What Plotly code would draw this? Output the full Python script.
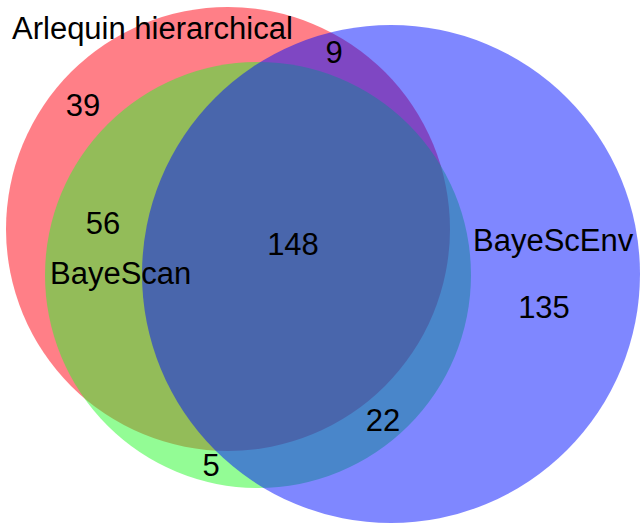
import plotly.graph_objects as go

# sets and region counts
set_names = ["Arlequin hierarchical", "BayeScan", "BayeScEnv"]
region_keys = ["A", "AB", "AC", "ABC", "B", "BC", "C"]
region_counts = [39, 56, 9, 148, 5, 22, 135]

# circle geometry in pixel space (x right, y down)
CIRCLES = {
    "Arlequin hierarchical": dict(cx=228, cy=229, r=222, color="rgba(255,0,16,0.5)"),
    "BayeScan": dict(cx=258, cy=275, r=213, color="rgba(40,250,44,0.5)"),
    "BayeScEnv": dict(cx=391, cy=274, r=249, color="rgba(0,16,255,0.5)"),
}

# label placement
COUNT_POS = {
    "A": (83, 108), "AB": (103, 226), "AC": (334, 55), "ABC": (293, 247),
    "B": (211, 468), "BC": (383, 423), "C": (544, 310),
}
NAME_POS = {
    "Arlequin hierarchical": (10, 28, "left"),
    "BayeScan": (48, 273, "left"),
    "BayeScEnv": (471, 240, "left"),
}

FONT = dict(family="Liberation Sans, Arial, sans-serif", size=31, color="black")

fig = go.Figure()

shapes = []
for name in set_names:
    c = CIRCLES[name]
    shapes.append(dict(
        type="circle", xref="x", yref="y",
        x0=c["cx"] - c["r"], x1=c["cx"] + c["r"],
        y0=c["cy"] - c["r"], y1=c["cy"] + c["r"],
        fillcolor=c["color"], line=dict(width=0), layer="below",
    ))

fig.add_trace(go.Scatter(
    x=[COUNT_POS[k][0] for k in region_keys],
    y=[COUNT_POS[k][1] for k in region_keys],
    mode="text",
    text=[str(v) for v in region_counts],
    textposition="middle center",
    textfont=FONT,
    hoverinfo="skip",
    showlegend=False,
))

annotations = []
for name in set_names:
    x, y, anchor = NAME_POS[name]
    annotations.append(dict(
        x=x, y=y, xref="x", yref="y", text=name, showarrow=False,
        xanchor=anchor, yanchor="middle", font=FONT,
    ))

fig.update_layout(
    width=640, height=525,
    margin=dict(l=0, r=0, t=0, b=0),
    paper_bgcolor="white", plot_bgcolor="white",
    shapes=shapes, annotations=annotations,
    xaxis=dict(range=[0, 640], visible=False, fixedrange=True),
    yaxis=dict(range=[525, 0], visible=False, fixedrange=True),
    showlegend=False,
)

# page body has a default margin; drop it so the figure sits at 0,0
fig.write_html("out.html", post_script="document.body.style.margin='0';",
               config={"displayModeBar": False})
